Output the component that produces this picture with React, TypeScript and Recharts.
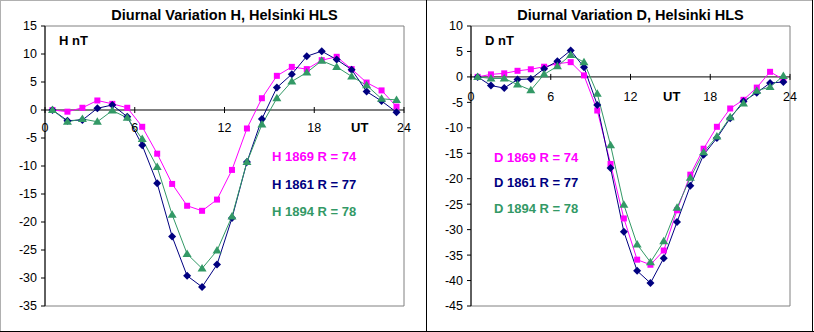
import React from "react";
import { LineChart, Line, XAxis, YAxis, ReferenceLine, ReferenceArea } from "recharts";

// Hour of day (UT), points at mid-hour
const hours = [
  0.5, 1.5, 2.5, 3.5, 4.5, 5.5, 6.5, 7.5, 8.5, 9.5, 10.5, 11.5,
  12.5, 13.5, 14.5, 15.5, 16.5, 17.5, 18.5, 19.5, 20.5, 21.5, 22.5, 23.5,
];

// H component, nT
const h1869 = [0, -0.3, 0.4, 1.7, 1.1, 0.4, -3.0, -7.8, -13.2, -17.1, -18.0, -16.0, -10.7, -3.3, 2.1, 6.1, 7.7, 7.3, 8.9, 9.5, 7.3, 4.9, 3.5, 0.6];
const h1861 = [0, -1.9, -1.8, 0.3, 0.9, -1.2, -6.3, -13.1, -22.6, -29.6, -31.6, -27.6, -19.3, -9.3, -1.6, 4.0, 6.4, 9.6, 10.5, 9.0, 7.2, 3.3, 1.6, -0.4];
const h1894 = [0, -2.1, -1.6, -2.1, -0.1, -1.4, -5.2, -10.2, -18.7, -25.7, -28.3, -25.1, -19.0, -9.3, -2.6, 2.1, 5.1, 6.7, 8.8, 7.7, 6.0, 4.4, 2.0, 1.8];

// D component, nT
const d1869 = [0, 0.5, 0.7, 1.2, 1.5, 2.0, 2.6, 2.9, 0.3, -6.6, -17.1, -27.8, -35.9, -36.9, -34.1, -26.2, -19.2, -14.1, -9.8, -6.2, -4.5, -2.1, 1.0, -0.5];
const d1861 = [0, -1.7, -2.2, -0.5, -0.4, 1.6, 3.1, 5.2, 1.9, -5.5, -17.9, -30.4, -38.1, -40.5, -35.6, -28.5, -21.4, -15.3, -12.0, -8.1, -4.8, -3.1, -1.2, -1.0];
const d1894 = [0, -0.3, -0.3, -1.5, -2.6, 0.5, 2.1, 4.3, 2.9, -3.3, -13.4, -25.1, -32.9, -36.4, -32.3, -25.7, -19.8, -14.8, -11.7, -7.9, -5.2, -2.7, -2.0, 0.2];

const xTicks = [0, 6, 12, 18, 24];
const hTicks = [-35, -30, -25, -20, -15, -10, -5, 0, 5, 10, 15];
const dTicks = [-45, -40, -35, -30, -25, -20, -15, -10, -5, 0, 5, 10];

const FONT = '"Liberation Sans", Arial, sans-serif';
const PINK = "#FF00FF";
const NAVY = "#000080";
const GREEN = "#339966";

const TOP = 26;
const PLOT_H = 280;

const Square = (p: any) =>
  p.cx == null ? null : (
    <rect key={`s${p.index}`} x={p.cx - 3} y={p.cy - 3} width={6} height={6} fill={PINK} />
  );

const Diamond = (p: any) =>
  p.cx == null ? null : (
    <polygon
      key={`d${p.index}`}
      points={`${p.cx},${p.cy - 4} ${p.cx + 4},${p.cy} ${p.cx},${p.cy + 4} ${p.cx - 4},${p.cy}`}
      fill={NAVY}
    />
  );

const Triangle = (p: any) =>
  p.cx == null ? null : (
    <polygon
      key={`t${p.index}`}
      points={`${p.cx},${p.cy - 4.5} ${p.cx + 4.5},${p.cy + 3} ${p.cx - 4.5},${p.cy + 3}`}
      fill={GREEN}
    />
  );

const Txt = ({ x, y, size, color = "#000", bold = true, center = false, children }: any) => (
  <div
    style={{
      position: "absolute",
      left: x,
      top: y - size * 0.49,
      fontFamily: FONT,
      fontSize: size,
      fontWeight: bold ? "bold" : "normal",
      color,
      lineHeight: 1,
      whiteSpace: "nowrap",
      transform: center ? "translateX(-50%)" : undefined,
    }}
  >
    {children}
  </div>
);

type PanelProps = {
  width: number;
  right: number;
  title: string;
  unit: string;
  comp: string;
  s1: number[];
  s2: number[];
  s3: number[];
  yTicks: number[];
  utX: number;
  labelDy: number;
  legendY: number[];
  legendX: number;
};

const Panel = (props: PanelProps) => {
  const { width, right, title, unit, comp, s1, s2, s3, yTicks, utX, labelDy, legendY, legendX } = props;
  const yMin = yTicks[0];
  const yMax = yTicks[yTicks.length - 1];
  const zeroY = TOP + (PLOT_H * yMax) / (yMax - yMin);
  const rows = hours.map((t, i) => ({ t, a: s1[i], b: s2[i], c: s3[i] }));

  const renderXTick = (p: any) => (
    <g key={`x${p.index}`}>
      <line x1={p.x} x2={p.x} y1={zeroY - 3} y2={zeroY + 3} stroke="#000" />
      <text x={p.x} y={zeroY + labelDy} textAnchor="middle" fontFamily={FONT} fontSize={12.5} fill="#000">
        {p.payload.value}
      </text>
    </g>
  );

  return (
    <div style={{ position: "relative", width, height: 332 }}>
      <LineChart width={width} height={332} data={rows} margin={{ top: TOP, right, bottom: 6, left: 0 }}>
        <XAxis
          type="number"
          dataKey="t"
          domain={[0, 24]}
          ticks={xTicks}
          interval={0}
          axisLine={false}
          tickLine={false}
          height={20}
          tick={renderXTick}
        />
        <YAxis
          type="number"
          domain={[yMin, yMax]}
          ticks={yTicks}
          interval={0}
          width={45}
          axisLine={{ stroke: "#000" }}
          tickLine={{ stroke: "#000" }}
          tickSize={4}
          tickMargin={4}
          tick={{ fontFamily: FONT, fontSize: 12.5, fill: "#000" }}
        />
        <ReferenceArea x1={0} x2={24} y1={yMin} y2={yMax} fill="none" stroke="#808080" strokeWidth={1} />
        <ReferenceLine y={0} stroke="#000" />
        <Line dataKey="a" stroke={PINK} strokeWidth={1} dot={Square} isAnimationActive={false} />
        <Line dataKey="b" stroke={NAVY} strokeWidth={1} dot={Diamond} isAnimationActive={false} />
        <Line dataKey="c" stroke={GREEN} strokeWidth={1} dot={Triangle} isAnimationActive={false} />
      </LineChart>
      <Txt x={45 + (width - right - 45) / 2} y={15} size={14.5} center>
        {title}
      </Txt>
      <Txt x={59} y={40} size={13}>
        {unit}
      </Txt>
      <Txt x={utX} y={zeroY + labelDy - 5} size={13}>
        UT
      </Txt>
      <Txt x={legendX} y={legendY[0]} size={13} color={PINK}>
        {comp} 1869 R = 74
      </Txt>
      <Txt x={legendX} y={legendY[1]} size={13} color={NAVY}>
        {comp} 1861 R = 77
      </Txt>
      <Txt x={legendX} y={legendY[2]} size={13} color={GREEN}>
        {comp} 1894 R = 78
      </Txt>
    </div>
  );
};

const line = (style: React.CSSProperties) => <div style={{ position: "absolute", ...style }} />;

const App = () => (
  <div style={{ position: "absolute", left: 0, top: 0, width: 814, height: 332, background: "#fff", overflow: "hidden" }}>
    <div style={{ position: "absolute", left: 0, top: 0 }}>
      <Panel
        width={426}
        right={22}
        title="Diurnal Variation H, Helsinki HLS"
        unit="H nT"
        comp="H"
        s1={h1869}
        s2={h1861}
        s3={h1894}
        yTicks={hTicks}
        utX={351}
        labelDy={22}
        legendY={[156, 184, 211]}
        legendX={272}
      />
    </div>
    <div style={{ position: "absolute", left: 426, top: 0 }}>
      <Panel
        width={388}
        right={24}
        title="Diurnal Variation D, Helsinki HLS"
        unit="D nT"
        comp="D"
        s1={d1869}
        s2={d1861}
        s3={d1894}
        yTicks={dTicks}
        utX={237}
        labelDy={24}
        legendY={[157, 182, 208]}
        legendX={68}
      />
    </div>
    {line({ left: 0, top: 0, width: 813, height: 1, background: "#b0b0b0" })}
    {line({ left: 0, top: 0, width: 1, height: 332, background: "#b0b0b0" })}
    {line({ left: 426, top: 0, width: 1, height: 332, background: "#000" })}
    {line({ left: 812, top: 0, width: 1, height: 332, background: "#000" })}
    {line({ left: 0, top: 331, width: 814, height: 1, background: "#000" })}
  </div>
);

export default App;
